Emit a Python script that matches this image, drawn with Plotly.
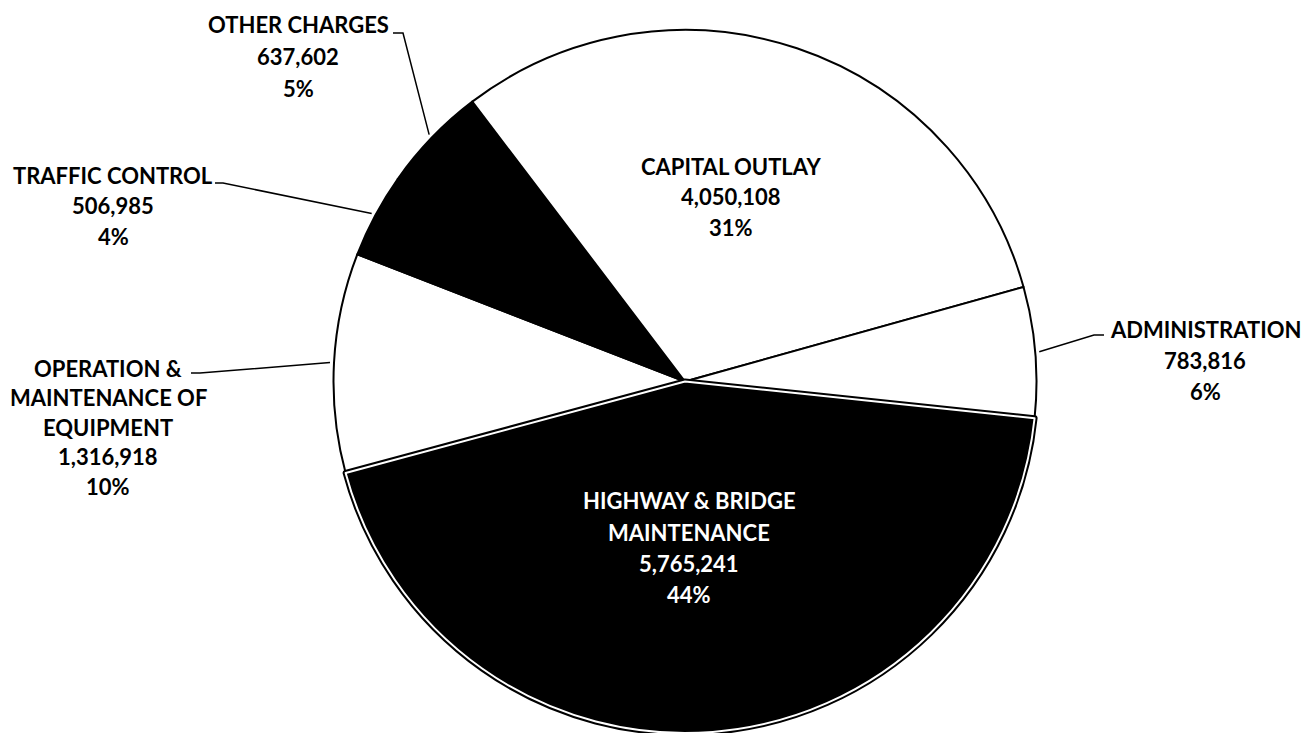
import math
import plotly.graph_objects as go

# ---- data (clockwise drawing order) ----
categories = [
    "OPERATION & MAINTENANCE OF EQUIPMENT",
    "TRAFFIC CONTROL",
    "OTHER CHARGES",
    "CAPITAL OUTLAY",
    "ADMINISTRATION",
    "HIGHWAY & BRIDGE MAINTENANCE",
]
values = [1316918, 506985, 637602, 4050108, 783816, 5765241]
slice_colors = ["white", "black", "black", "white", "white", "black"]

# label line breaks for each category
label_lines = {
    "OPERATION & MAINTENANCE OF EQUIPMENT": ["OPERATION &", "MAINTENANCE OF", "EQUIPMENT"],
    "TRAFFIC CONTROL": ["TRAFFIC CONTROL"],
    "OTHER CHARGES": ["OTHER CHARGES"],
    "CAPITAL OUTLAY": ["CAPITAL OUTLAY"],
    "ADMINISTRATION": ["ADMINISTRATION"],
    "HIGHWAY & BRIDGE MAINTENANCE": ["HIGHWAY & BRIDGE", "MAINTENANCE"],
}

# ---- layout geometry (pixels) ----
BODY = 8  # default page margin around the figure
W, H = 1311 - BODY, 733 - BODY
ML, MR, MT, MB = 51, 0, 22, 0
PW, PH = W - ML - MR, H - MT - MB
CX, CY = ML + PW / 2 + BODY, MT + PH / 2 + BODY  # screen coords
R = min(PW, PH) / 2
HW_START = 96.0  # clockwise-from-top angle where the highway slice begins

total = sum(values)
hw_idx = categories.index("HIGHWAY & BRIDGE MAINTENANCE")
rotation = HW_START + 360.0 * values[hw_idx] / total


def px2paper(x, y):
    # x, y in screen pixels
    return (x - BODY - ML) / PW, 1 - (y - BODY - MT) / PH


# label block placement (screen px): center x, first-line y, spacing, color
label_pos = {
    "OPERATION & MAINTENANCE OF EQUIPMENT": (108, 368, 29.5, "black"),
    "TRAFFIC CONTROL": (113, 176, 30, "black"),
    "OTHER CHARGES": (298, 24, 32, "black"),
    "CAPITAL OUTLAY": (731, 166, 31, "black"),
    "ADMINISTRATION": (1205, 329, 31, "black"),
    "HIGHWAY & BRIDGE MAINTENANCE": (689, 501, 31, "white"),
}
# leader line elbows (screen px): elbow point, end point
leaders = {
    "OTHER CHARGES": [(403, 33), (393, 33)],
    "TRAFFIC CONTROL": [(223, 183), (215, 183)],
    "OPERATION & MAINTENANCE OF EQUIPMENT": [(200, 373), (191, 373)],
    "ADMINISTRATION": [(1094, 335), (1104, 335)],
}

fig = go.Figure()
fig.add_trace(go.Pie(
    values=values, labels=categories, sort=False, direction="clockwise",
    rotation=rotation, textinfo="none", hoverinfo="skip", showlegend=False,
    marker=dict(colors=slice_colors,
                line=dict(color="black", width=[6 if c == "HIGHWAY & BRIDGE MAINTENANCE" else 2 for c in categories])),
))
fig.add_trace(go.Pie(
    values=values, labels=categories, sort=False, direction="clockwise",
    rotation=rotation, textinfo="none", hoverinfo="skip", showlegend=False,
    marker=dict(colors=["rgba(0,0,0,0)"] * len(values),
                line=dict(color=["white" if c == "HIGHWAY & BRIDGE MAINTENANCE" else "rgba(0,0,0,0)" for c in categories],
                          width=[2 if c == "HIGHWAY & BRIDGE MAINTENANCE" else 0 for c in categories])),
))

annotations = []
shapes = []
cum = 0
for cat, v in zip(categories, values):
    pct = round(100 * v / total)
    lines = label_lines[cat] + [f"{v:,}", f"{pct}%"]
    x0, y0, sp, col = label_pos[cat]
    for k, t in enumerate(lines):
        xp, yp = px2paper(x0, y0 + k * sp)
        annotations.append(dict(
            text=t, x=xp, y=yp, xref="paper", yref="paper",
            xanchor="center", yanchor="middle", showarrow=False,
            font=dict(family="Lato", size=22, color=col, weight="bold"),
        ))
    mid = rotation + 360.0 * (cum + v / 2) / total
    cum += v
    if cat in leaders:
        th = math.radians(mid)
        ex = CX + (R + 4) * math.sin(th)
        ey = CY - (R + 4) * math.cos(th)
        pts = [(ex, ey)] + leaders[cat]
        path = ""
        for j, (px, py) in enumerate(pts):
            a, b = px2paper(px, py)
            path += ("M" if j == 0 else " L") + f" {a:.5f} {b:.5f}"
        shapes.append(dict(type="path", path=path, xref="paper", yref="paper",
                           line=dict(color="black", width=1.5)))

fig.update_layout(
    width=W, height=H, autosize=False,
    margin=dict(l=ML, r=MR, t=MT, b=MB, pad=0),
    paper_bgcolor="white", plot_bgcolor="white",
    annotations=annotations, shapes=shapes,
)
fig.write_html("out.html")
